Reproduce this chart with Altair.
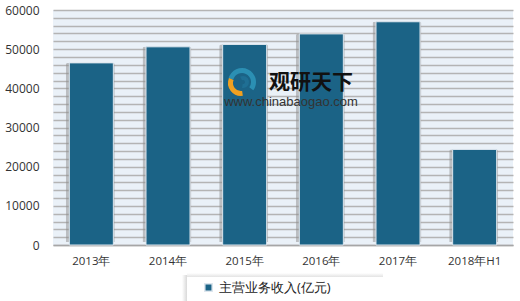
import altair as alt
import pandas as pd

categories = ["2013年", "2014年", "2015年", "2016年", "2017年", "2018年H1"]
values = [46500, 50600, 51200, 53900, 57000, 24400]
series_name = "主营业务收入(亿元)"
y_ticks = list(range(0, 60001, 2000))
wm_texts = ["观研天下", "www.chinabaogao.com"]

df = pd.DataFrame({"cat": categories, "val": values, "series": [series_name] * len(categories)})

FONT = "Open Sans"
x_scale = alt.Scale(paddingInner=0.43, paddingOuter=0.215)
y_scale = alt.Scale(domain=[0, 60000], nice=False)

x_enc = alt.X("cat:N", sort=categories, title=None, scale=x_scale,
              axis=alt.Axis(labelAngle=0, labelFont=FONT, labelFontSize=11.5, labelColor="#333333",
                            labelPadding=10, ticks=False, domainColor="#a6a6a6", domainWidth=1.5))
y_enc = alt.Y("val:Q", scale=y_scale, title=None,
              axis=alt.Axis(values=y_ticks, labelExpr="datum.value % 10000 == 0 ? datum.label : ''",
                            format="d", labelFont=FONT, labelFontSize=12, labelColor="#333333",
                            labelPadding=14, ticks=False, domain=False, labelOverlap=False,
                            gridColor="#b4b4b4", gridWidth=1.5))

shadow = alt.Chart(df).mark_bar(color="#8c8c8c", opacity=0.5, size=49, xOffset=-1, yOffset=-3,
                                cornerRadius=2).encode(x=x_enc, y=y_enc)

bars = alt.Chart(df).mark_bar(size=44, stroke="#dde6ee", strokeWidth=1).encode(
    x=x_enc,
    y=y_enc,
    color=alt.Color("series:N", scale=alt.Scale(range=["#1b6386"]),
                    legend=alt.Legend(title=None, orient="none", legendX=142, legendY=264,
                                      symbolType="square", symbolSize=55,
                                      labelFont=FONT, labelFontSize=13, labelColor="#222222",
                                      padding=7, symbolOffset=0, labelLimit=300)),
)

wm = pd.DataFrame({"t": wm_texts})
wm_text1 = alt.Chart(wm.iloc[[0]]).mark_text(font="Noto Sans CJK SC", fontSize=21, fontWeight="bold",
                                               color="#111111", align="center", baseline="middle").encode(
    x=alt.value(258), y=alt.value(73), text="t:N",
)
wm_text2 = alt.Chart(wm.iloc[[1]]).mark_text(font="Liberation Sans", fontSize=13,
                                               color="#333333", align="center", baseline="middle").encode(
    x=alt.value(238), y=alt.value(92), text="t:N",
)

# watermark logo (decorative)
logo_teal = alt.Chart(wm.iloc[[0]]).mark_arc(innerRadius=9, outerRadius=14, color="#2b8fb3").encode(
    x=alt.value(189), y=alt.value(72), theta=alt.value(-1.3), theta2=alt.value(2.2))
logo_orange = alt.Chart(wm.iloc[[0]]).mark_arc(innerRadius=8, outerRadius=13, color="#f0a020").encode(
    x=alt.value(188), y=alt.value(73), theta=alt.value(3.0), theta2=alt.value(5.1))
logo_inner = alt.Chart(wm.iloc[[0]]).mark_arc(innerRadius=2, outerRadius=6, color="#1f6f94").encode(
    x=alt.value(190), y=alt.value(72), theta=alt.value(-0.5), theta2=alt.value(3.3))

# legend box shadow (decorative)
leg_shadow_left = alt.Chart(wm.iloc[[0]]).mark_rect(
    color=alt.Gradient(gradient="linear", x1=0, x2=1, y1=0, y2=0,
                       stops=[alt.GradientStop(color="#ffffff", offset=0),
                              alt.GradientStop(color="#d9d9d9", offset=1)])).encode(
    x=alt.value(129), x2=alt.value(134), y=alt.value(265), y2=alt.value(291))
leg_shadow_top = alt.Chart(wm.iloc[[0]]).mark_rect(
    color=alt.Gradient(gradient="linear", x1=0, x2=0, y1=0, y2=1,
                       stops=[alt.GradientStop(color="#ffffff", offset=0),
                              alt.GradientStop(color="#e3e3e3", offset=1)])).encode(
    x=alt.value(134), x2=alt.value(330), y=alt.value(263), y2=alt.value(267))

chart = alt.layer(shadow, bars, wm_text1, wm_text2, logo_teal, logo_orange, logo_inner,
                  leg_shadow_left, leg_shadow_top).properties(
    width=460, height=235,
    padding={"left": 53, "top": 10, "right": 7, "bottom": 56},
    autosize=alt.AutoSizeParams(type="none"),
).configure(background="white").configure_view(fill="#eaf1f8", stroke=None)

chart.save("out.html", embed_options={"renderer": "svg", "actions": False})
